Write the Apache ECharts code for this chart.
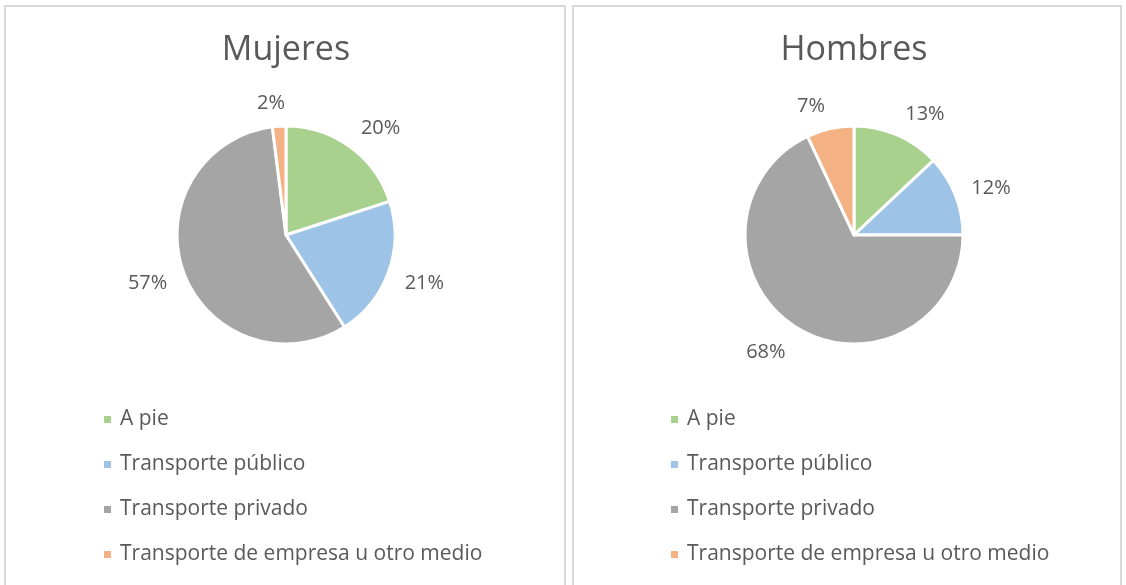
<!DOCTYPE html>
<html>
<head>
<meta charset="utf-8">
<script src="https://cdn.jsdelivr.net/npm/echarts@6/dist/echarts.min.js"></script>
<style>
  html, body { margin: 0; padding: 0; background: #fff; }
  #chart { width: 1126px; height: 585px; }
</style>
</head>
<body>
<div id="chart"></div>
<script>
// data
const categories = ['A pie', 'Transporte público', 'Transporte privado', 'Transporte de empresa u otro medio'];
const mujeresValues = [20, 21, 57, 2];
const hombresValues = [13, 12, 68, 7];
const titles = ['Mujeres', 'Hombres'];

const colors = ['#a9d18e', '#9dc3e6', '#a5a5a5', '#f4b183'];
const textColor = '#595959';
const fontFamily = 'Open Sans, Noto Sans, sans-serif';

const chart = echarts.init(document.getElementById('chart'));

const pieRadius = 109;
const pieCy = 235;
const labelGap = 15;

// posiciones de cada panel
const panels = [
  {x: 5, w: 560, cx: 286, legendLeft: 97},
  {x: 573, w: 548, cx: 854, legendLeft: 664}
];

// etiquetas al estilo "ajuste óptimo" de Excel: la caja de texto queda fuera del sector
const makeLabelLayout = (values, cx) => params => {
  const total = values.reduce((a, b) => a + b, 0);
  const before = values.slice(0, params.dataIndex).reduce((a, b) => a + b, 0);
  const mid = (before + values[params.dataIndex] / 2) / total * Math.PI * 2;
  const s = Math.sin(mid);
  const c = Math.cos(mid);
  const w = params.labelRect.width;
  const r = pieRadius + labelGap;
  const side = Math.sign(s) * Math.min(1, Math.abs(s) / 0.14);
  return {
    x: cx + r * s + side * (w / 2 + 2),
    y: pieCy - r * c - 11 * c + 3,
    align: 'center',
    verticalAlign: 'middle'
  };
};

const makePie = (name, values, cx) => ({
  type: 'pie',
  name: name,
  center: [cx, pieCy],
  radius: pieRadius,
  startAngle: 90,
  clockwise: true,
  avoidLabelOverlap: false,
  data: values.map((v, i) => ({name: categories[i], value: v})),
  itemStyle: {borderColor: '#fff', borderWidth: 3},
  label: {
    show: true,
    position: 'outside',
    formatter: p => Math.round(p.percent) + '%',
    color: textColor,
    fontSize: 20,
    fontFamily: fontFamily
  },
  labelLine: {show: false, length: 13, length2: 2},
  labelLayout: makeLabelLayout(values, cx),
  emphasis: {disabled: true}
});

const option = {
  color: colors,
  animation: false,
  graphic: panels.map(p => ({
    type: 'rect',
    shape: {x: p.x, y: 6, width: p.w, height: 600},
    style: {fill: 'none', stroke: '#d9d9d9', lineWidth: 2},
    silent: true
  })),
  title: titles.map((t, i) => ({
    text: t,
    left: panels[i].cx - 5,
    top: 28,
    textAlign: 'center',
    textStyle: {color: textColor, fontSize: 34, fontWeight: 'normal', fontFamily: fontFamily}
  })),
  legend: panels.map((p, i) => ({
    orient: 'vertical',
    left: p.legendLeft,
    top: 404,
    icon: 'rect',
    itemWidth: 9,
    itemHeight: 9,
    itemGap: 24,
    seriesIndex: i,
    data: categories,
    selectedMode: false,
    textStyle: {color: textColor, fontSize: 21, fontFamily: fontFamily, padding: [0, 0, 0, 3]}
  })),
  series: [
    makePie(titles[0], mujeresValues, panels[0].cx),
    makePie(titles[1], hombresValues, panels[1].cx)
  ]
};

chart.setOption(option);
</script>
</body>
</html>
